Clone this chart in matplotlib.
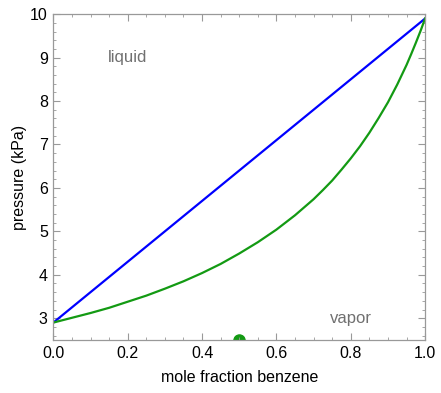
import matplotlib
matplotlib.use("Agg")
import matplotlib.pyplot as plt
from matplotlib.ticker import MultipleLocator

plt.rcParams['font.family'] = ['Liberation Sans', 'DejaVu Sans']

# liquid (bubble) line endpoints
liquid_x = [0.0, 1.0]
liquid_p = [2.9, 9.9]

# vapor (dew) curve
vapor_x = [0.0, 0.05, 0.1, 0.15, 0.2, 0.25, 0.3, 0.35, 0.4, 0.45, 0.5,
           0.55, 0.6, 0.65, 0.7, 0.725, 0.75, 0.775, 0.8, 0.825, 0.85, 0.875,
           0.9, 0.925, 0.95, 0.9625, 0.975, 0.9875, 1.0]
vapor_p = [2.90, 3.01, 3.12, 3.24, 3.38, 3.52, 3.68, 3.85, 4.04, 4.25, 4.49,
           4.75, 5.04, 5.37, 5.74, 5.95, 6.17, 6.42, 6.68, 6.96, 7.27, 7.61,
           7.97, 8.38, 8.83, 9.08, 9.34, 9.61, 9.9]

dot_x = [0.5]
dot_p = [2.5]

fig = plt.figure(figsize=(4.41, 3.93), dpi=100)
ax = fig.add_axes([0.121, 0.135, 0.843, 0.829])

ax.plot(liquid_x, liquid_p, color='#0000ff', lw=1.6)
ax.plot(vapor_x, vapor_p, color='#139a13', lw=1.6)
ax.plot(dot_x, dot_p, 'o', color='#139a13', ms=8, clip_on=True, zorder=1)

ax.text(0.2, 9.0, 'liquid', color='#707070', fontsize=12, ha='center', va='center')
ax.text(0.8, 3.0, 'vapor', color='#707070', fontsize=12, ha='center', va='center')

ax.set_xlim(0, 1)
ax.set_ylim(2.5, 10)
ax.xaxis.set_major_locator(MultipleLocator(0.2))
ax.xaxis.set_minor_locator(MultipleLocator(0.05))
ax.yaxis.set_major_locator(MultipleLocator(1))
ax.yaxis.set_minor_locator(MultipleLocator(0.2))
ax.set_xticks([0, 0.2, 0.4, 0.6, 0.8, 1.0])
ax.set_xticklabels(['0.0', '0.2', '0.4', '0.6', '0.8', '1.0'])
ax.set_yticks([3, 4, 5, 6, 7, 8, 9, 10])

for s in ax.spines.values():
    s.set_color('#999999')
    s.set_linewidth(0.9)
ax.tick_params(which='both', direction='in', top=True, right=True, color='#999999',
               labelsize=11.5, labelcolor='black', pad=4)
ax.tick_params(which='major', length=5, width=0.8)
ax.tick_params(which='minor', length=2.5, width=0.6)

ax.set_xlabel('mole fraction benzene', fontsize=11.5, labelpad=7)
ax.set_ylabel('pressure (kPa)', fontsize=11.5, labelpad=2)

fig.savefig('out.png', dpi=100)
